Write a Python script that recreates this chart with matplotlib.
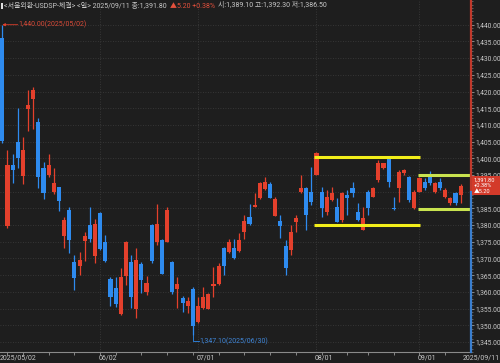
import matplotlib
matplotlib.use('Agg')
import matplotlib.pyplot as plt
from matplotlib.patches import Rectangle
from matplotlib.ticker import FuncFormatter, MultipleLocator
import numpy as np
import pandas as pd

plt.rcParams['font.family'] = ['Roboto', 'Noto Sans CJK KR', 'DejaVu Sans']

# Korean trading days, 2025/05/02 - 2025/09/11
holidays = ['2025-05-05', '2025-05-06', '2025-06-03', '2025-06-06', '2025-08-15']
dates = [d for d in pd.bdate_range('2025-05-02', '2025-09-11')
         if d.strftime('%Y-%m-%d') not in holidays]

opens = [1436.0, 1379.8, 1398.1, 1405.0, 1394.8, 1414.9, 1417.9, 1411.0, 1397.0, 1395.0,
         1389.9, 1391.3, 1376.8, 1384.5, 1369.0, 1367.8, 1375.3, 1380.0, 1370.8, 1383.5,
         1375.0, 1363.8, 1361.1, 1353.4, 1364.9, 1369.0, 1354.9, 1368.3, 1359.9, 1380.0,
         1375.0, 1375.4, 1375.0, 1369.0, 1360.9, 1358.1, 1355.9, 1360.9, 1351.1, 1355.1,
         1355.0, 1361.8, 1362.4, 1373.2, 1372.0, 1373.0, 1372.2, 1378.0, 1382.5, 1385.5,
         1388.0, 1390.7, 1392.3, 1382.8, 1381.1, 1373.7, 1372.5, 1381.0, 1389.8, 1391.0,
         1390.0, 1395.0, 1390.0, 1384.0, 1387.5, 1385.5, 1381.5, 1389.0, 1391.0, 1384.0,
         1378.5, 1390.0, 1388.5, 1393.5, 1397.0, 1400.3, 1385.0, 1391.0, 1395.5, 1394.5,
         1385.0, 1390.0, 1393.0, 1395.0, 1390.0, 1393.0, 1388.5, 1386.5, 1389.5, 1389.1]
highs = [1440.0, 1402.5, 1401.2, 1415.0, 1406.3, 1420.4, 1421.4, 1412.0, 1399.0, 1401.2,
         1397.0, 1391.5, 1382.3, 1385.3, 1371.0, 1372.0, 1378.0, 1385.5, 1381.7, 1383.8,
         1377.0, 1364.6, 1364.4, 1367.1, 1375.2, 1371.0, 1373.1, 1369.0, 1364.8, 1380.3,
         1386.3, 1375.8, 1385.3, 1369.3, 1364.6, 1358.9, 1358.6, 1361.6, 1358.6, 1361.6,
         1359.7, 1367.4, 1368.6, 1373.5, 1375.7, 1375.7, 1377.5, 1383.0, 1386.2, 1389.5,
         1393.0, 1394.5, 1393.0, 1388.5, 1383.0, 1375.5, 1380.0, 1383.0, 1395.0, 1391.4,
         1397.5, 1401.9, 1391.5, 1390.5, 1391.3, 1388.0, 1390.0, 1390.5, 1393.0, 1386.5,
         1385.5, 1390.5, 1391.5, 1399.5, 1398.7, 1400.7, 1388.5, 1396.5, 1396.8, 1394.7,
         1390.5, 1394.5, 1394.1, 1396.3, 1393.0, 1394.0, 1391.0, 1388.5, 1390.0, 1392.3]
lows = [1404.5, 1379.0, 1392.7, 1397.0, 1392.3, 1408.3, 1408.7, 1391.0, 1387.9, 1394.3,
        1389.2, 1384.3, 1373.1, 1371.7, 1360.6, 1365.1, 1369.3, 1375.0, 1368.7, 1372.5,
        1369.0, 1355.8, 1355.6, 1353.0, 1362.1, 1355.1, 1352.1, 1359.8, 1359.1, 1368.7,
        1374.0, 1365.3, 1374.8, 1359.4, 1355.1, 1353.9, 1353.6, 1347.1, 1350.8, 1354.8,
        1354.8, 1358.6, 1362.1, 1365.1, 1371.5, 1369.8, 1372.0, 1375.7, 1380.0, 1385.3,
        1387.8, 1390.5, 1388.0, 1382.8, 1376.0, 1365.1, 1371.0, 1378.0, 1389.5, 1378.5,
        1386.0, 1395.0, 1382.5, 1383.0, 1387.2, 1380.8, 1381.0, 1383.0, 1388.5, 1381.2,
        1378.5, 1383.0, 1388.3, 1393.0, 1396.8, 1391.5, 1384.5, 1387.0, 1395.0, 1387.0,
        1384.8, 1389.8, 1390.5, 1392.0, 1389.5, 1390.5, 1388.0, 1386.0, 1386.0, 1386.5]
closes = [1405.3, 1398.0, 1396.5, 1400.0, 1402.5, 1416.0, 1420.4, 1394.5, 1389.5, 1397.9,
          1392.5, 1387.1, 1381.5, 1375.5, 1364.2, 1369.6, 1376.7, 1375.8, 1380.2, 1372.8,
          1369.3, 1358.4, 1356.4, 1364.4, 1375.0, 1358.6, 1369.6, 1363.6, 1362.8, 1369.3,
          1380.3, 1365.4, 1384.5, 1360.1, 1362.4, 1356.8, 1357.4, 1349.9, 1355.9, 1358.6,
          1359.3, 1362.4, 1367.8, 1367.8, 1375.0, 1370.1, 1375.5, 1381.2, 1380.3, 1385.9,
          1392.7, 1393.0, 1388.2, 1387.8, 1379.7, 1367.1, 1378.0, 1382.0, 1391.0, 1383.0,
          1387.0, 1401.5, 1385.0, 1388.5, 1389.5, 1381.0, 1389.5, 1388.0, 1389.7, 1381.5,
          1382.0, 1385.0, 1391.0, 1398.5, 1398.5, 1393.0, 1384.7, 1396.0, 1396.5, 1387.5,
          1390.0, 1394.0, 1391.0, 1392.5, 1392.5, 1391.0, 1390.5, 1388.0, 1386.6, 1391.8]

# box range lines: (start index, end index, level)
box1 = [(60.5, 81.1, 1400.4), (60.5, 81.1, 1380.1)]
box2 = [(80.7, 91.5, 1394.9), (80.7, 91.5, 1384.9)]

month_labels = ['2025/05/02', '06/02', '07/01', '08/01', '09/01', '2025/09/11']

BG = '#1e1e1e'
RED = '#e4402c'
BLUE = '#2e8bef'
TXT = '#c8c8c8'
GRID = '#3e3e3e'

W, H = 500, 363
fig = plt.figure(figsize=(W / 100, H / 100), dpi=100, facecolor=BG)
ax = fig.add_axes([0, 11 / H, 471 / W, 352 / H])
ax.set_facecolor(BG)

o = np.array(opens)
h = np.array(highs)
l = np.array(lows)
c = np.array(closes)
x = np.arange(len(dates))
up = c >= o
cols = np.where(up, RED, BLUE)

ax.vlines(x, l, h, colors=cols, lw=0.9, zorder=2)
body_h = np.maximum(np.abs(c - o), 0.35)
ax.bar(x, body_h, bottom=np.minimum(o, c), width=0.8, color=cols, lw=0, zorder=3)

for x0, x1, lev in box1:
    ax.plot([x0, x1], [lev, lev], color='#f2ee1a', lw=2.2, zorder=4, solid_capstyle='butt')
for x0, x1, lev in box2:
    ax.plot([x0, x1], [lev, lev], color='#c9e34f', lw=2.2, zorder=4, solid_capstyle='butt')

# axes limits (pixel mapping of the reference)
ax.set_xlim(-0.45, 91.0)
ax.set_ylim(1342.0, 1447.4)

last = c[-1]

# right price axis (the label under the last-price box is hidden)
ax.yaxis.tick_right()
ax.set_yticks(np.arange(1345, 1441, 5))
ax.yaxis.set_minor_locator(MultipleLocator(1))
ax.yaxis.set_major_formatter(
    FuncFormatter(lambda v, p: '' if abs(v - last) < 2.5 else f'{v:,.2f}'))
ax.tick_params(axis='y', which='major', length=2.5, width=0.6, color='#9a9a9a',
               labelsize=4.9, labelcolor=TXT, pad=0.6)
ax.tick_params(axis='y', which='minor', length=1.3, width=0.5, color='#7a7a7a')
ax.grid(axis='y', color=GRID, ls=(0, (1, 2)), lw=0.6)

# month separators
month_idx = [i for i in range(1, len(dates)) if dates[i].month != dates[i - 1].month]
for mi in month_idx:
    ax.axvline(mi, color=GRID, ls=(0, (1, 2)), lw=0.6, zorder=0)

# weekly ticks on the bottom axis
week_idx = [i for i in range(1, len(dates)) if dates[i].weekday() < dates[i - 1].weekday()]
ax.set_xticks(week_idx)
ax.set_xticklabels([])
ax.tick_params(axis='x', length=2, width=0.6, color='#9a9a9a')

for s in ['top', 'left', 'right']:
    ax.spines[s].set_visible(False)
ax.spines['bottom'].set_color('#8a8a8a')
ax.spines['bottom'].set_linewidth(0.8)

# max / min markers
imax = int(np.argmax(h))
imin = int(np.argmin(l))
ax.annotate('', xy=(imax, h[imax]), xytext=(imax + 3.0, h[imax]),
            arrowprops=dict(arrowstyle='-|>', color=RED, lw=0.6, mutation_scale=4,
                            shrinkA=0, shrinkB=0))
ax.text(imax + 3.1, h[imax], f'{h[imax]:,.2f}({dates[imax]:%Y/%m/%d})', color='#d94a38',
        fontsize=5.0, va='center', ha='left')
ymk = l[imin] - 1.8
ax.plot([imin, imin, imin + 1.1], [l[imin], ymk, ymk], color=BLUE, lw=0.6)
ax.text(imin + 1.3, ymk, f'{l[imin]:,.2f}({dates[imin]:%Y/%m/%d})', color='#3f86d8',
        fontsize=5.0, va='center', ha='left')

# axis line on the right, red above the last price and blue below
ax.plot([1, 1], [last - 2.0, 1447.4], transform=ax.get_yaxis_transform(), color='#c0392b',
        lw=1.6, clip_on=False, zorder=5)
ax.plot([1, 1], [1342.0, last - 2.0], transform=ax.get_yaxis_transform(), color='#3a7fd0',
        lw=1.6, clip_on=False, zorder=5)

# last price box
fig.patches.append(Rectangle((472 / W, 1 - 195 / H), 28 / W, 19 / H, transform=fig.transFigure,
                             facecolor='#d33a2a', edgecolor='none', zorder=10))
chg = closes[-1] - closes[-2]
pct = chg / closes[-2] * 100
for k, s in enumerate([f'{last:,.2f}', f'+{pct:.2f}%', f'▲{chg:.2f}']):
    fig.text(474 / W, 1 - (180 + 5.6 * k) / H, s, color='white', fontsize=4.1,
             va='center', ha='left', zorder=11)

# bottom date labels
lab_idx = [0] + month_idx
for i, s in zip(lab_idx, month_labels[:-1]):
    xp = ax.transData.transform((i, 0))[0] - (2.3 if i == 0 else 1.5)
    fig.text(xp / W, 1 - 358 / H, s, color=TXT, fontsize=5.0, va='center', ha='left')
fig.text(499.5 / W, 1 - 358 / H, month_labels[-1], color=TXT, fontsize=5.0,
         va='center', ha='right')

# header, pieces laid out one after the other
fig.patches.append(Rectangle((1 / W, 1 - 9 / H), 2 / W, 6 / H, transform=fig.transFigure,
                             facecolor='#e0e0e0', edgecolor='none'))
ty = 1 - 6 / H
pieces = [(f'<서울외환-USDSP-체결> <일> {dates[-1]:%Y/%m/%d} 종:{last:,.2f} ', TXT),
          (f'▲{chg:.2f} +{pct:.2f}% ', '#e4503c'),
          (f'시:{opens[-1]:,.2f} 고:{highs[-1]:,.2f} 저:{lows[-1]:,.2f}', TXT)]
renderer = fig.canvas.get_renderer()
xp = 4.0
for s, col in pieces:
    t = fig.text(xp / W, ty, s, color=col, fontsize=5.0, va='center', ha='left')
    xp = t.get_window_extent(renderer).x1 + 1.5

fig.savefig('out.png', dpi=100, facecolor=BG)
plt.close(fig)
